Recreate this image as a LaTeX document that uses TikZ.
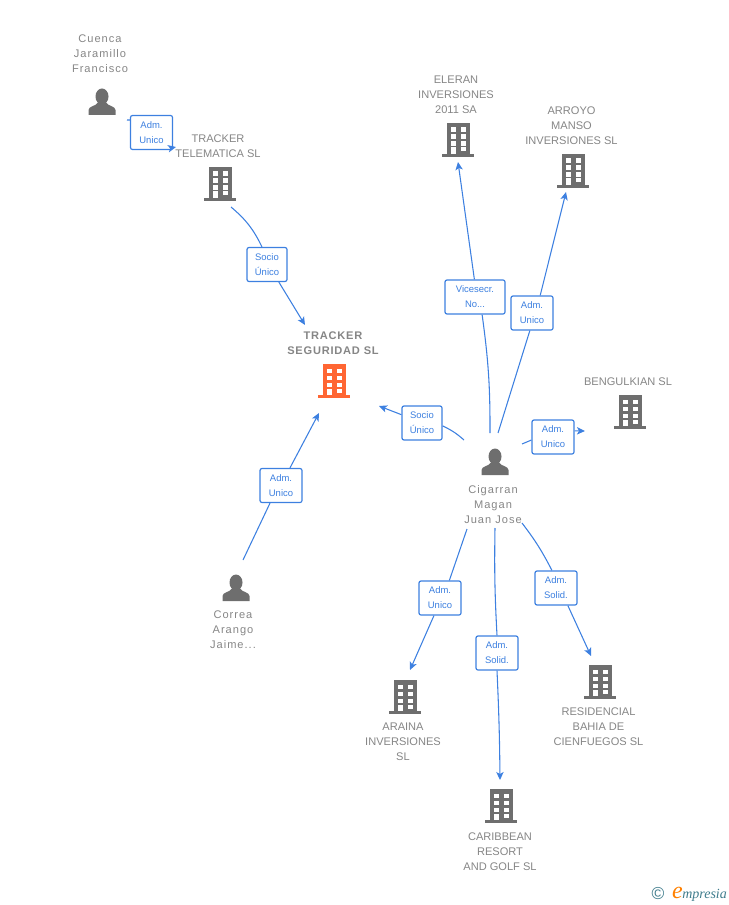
\documentclass[tikz,border=0pt]{standalone}
\usepackage{fontspec}
\setmainfont{Liberation Sans}
\newfontfamily\logofont{Liberation Serif}
\usepackage{xcolor}
\usetikzlibrary{calc,arrows.meta}
\definecolor{icongrey}{HTML}{6E6E6E}
\definecolor{textgrey}{HTML}{868686}
\definecolor{linkblue}{HTML}{3D80E0}
\definecolor{mainorange}{HTML}{FF6633}
\definecolor{logoteal}{HTML}{3F7C8C}
\tikzset{
	complabel/.style={align=center,text=textgrey,inner sep=0pt,font=\fontsize{8.3}{11.25}\selectfont},
	personlabel/.style={complabel,font=\fontsize{8.3}{11.25}\selectfont\addfontfeatures{LetterSpace=9}},
	mainlabel/.style={complabel,font=\fontsize{8.3}{11.25}\selectfont\bfseries\addfontfeatures{LetterSpace=7}},
	rolebox/.style={draw=linkblue,line width=0.9pt,fill=white,rounded corners=1.5pt,minimum height=25.5pt,minimum width=31.5pt,inner sep=0pt,align=center,text=linkblue,font=\fontsize{7.1}{11.25}\selectfont},
	linkline/.style={linkblue,line width=0.8pt},
	linkarrow/.style={linkblue,line width=0.8pt,-{Stealth[length=6pt,width=5.5pt,inset=1.5pt]}},
	building/.pic={
		\fill[pic actions] (-11.5,-17) rectangle (11.5,14);
		\fill[pic actions] (-16,14) rectangle (16,17);
		\foreach \yy in {-12.5,-5.5,1.5} {
			\fill[white] (-7.5,\yy) rectangle (-2.5,\yy+4.5);
			\fill[white] (2.5,\yy) rectangle (7.5,\yy+4.5);
		}
		\fill[white] (-7.5,7.5) rectangle (-2.5,14);
		\fill[white] (2.5,7.5) rectangle (7.5,11.5);
	},
	person/.pic={
		\fill[pic actions] (0,-5.5) ellipse (6.5 and 8);
		\fill[pic actions] (-13.5,13) -- (-13.5,8) .. controls (-13.5,4) and (-6,4.5) .. (-3.5,0) -- (3.5,0) .. controls (6,4.5) and (13.5,4) .. (13.5,8) -- (13.5,13) -- cycle;
	}
}
\begin{document}
\begin{tikzpicture}[x=0.75pt,y=-0.75pt]
	\useasboundingbox (0,0) rectangle (728,905);
	% icons
	\pic[fill=icongrey] (cuenca) at (102,102) {person};
	\pic[fill=icongrey] (cigarran) at (495,462) {person};
	\pic[fill=icongrey] (correa) at (236,588) {person};
	\pic[fill=icongrey] (telematica) at (220,184) {building};
	\pic[fill=mainorange] (seguridad) at (334,381) {building};
	\pic[fill=icongrey] (eleran) at (458,140) {building};
	\pic[fill=icongrey] (arroyo) at (573,171) {building};
	\pic[fill=icongrey] (bengulkian) at (630,412) {building};
	\pic[fill=icongrey] (araina) at (405,697) {building};
	\pic[fill=icongrey] (residencial) at (600,682) {building};
	\pic[fill=icongrey] (caribbean) at (501,806) {building};
	% labels
	\node[personlabel] (cuencatxt) at (100,53.5) {Cuenca\\Jaramillo\\Francisco};
	\node[complabel] (telematicatxt) at (218,146) {TRACKER\\TELEMATICA SL};
	\node[mainlabel] (seguridadtxt) at (333,343) {TRACKER\\SEGURIDAD SL};
	\node[complabel] (elerantxt) at (456,94.5) {ELERAN\\INVERSIONES\\2011 SA};
	\node[complabel] (arroyotxt) at (571.5,125.5) {ARROYO\\MANSO\\INVERSIONES SL};
	\node[complabel] (bengulkiantxt) at (628,381.5) {BENGULKIAN SL};
	\node[personlabel] (cigarrantxt) at (493,505) {Cigarran\\Magan\\Juan Jose};
	\node[personlabel] (correatxt) at (233,630) {Correa\\Arango\\Jaime...};
	\node[complabel] (arainatxt) at (403,741.5) {ARAINA\\INVERSIONES\\SL};
	\node[complabel] (residencialtxt) at (598.5,726.5) {RESIDENCIAL\\BAHIA DE\\CIENFUEGOS SL};
	\node[complabel] (caribbeantxt) at (500,851.5) {CARIBBEAN\\RESORT\\AND GOLF SL};
	% role boxes
	\node[rolebox] (admcuenca) at (151.5,132.5) {Adm.\\Unico};
	\node[rolebox,minimum width=30pt] (sociotel) at (267,264.5) {Socio\\Único};
	\node[rolebox] (admcorrea) at (281,485.5) {Adm.\\Unico};
	\node[rolebox,minimum width=30pt] (sociocig) at (422,423) {Socio\\Único};
	\node[rolebox,minimum width=45pt] (vicecig) at (475,297) {Vicesecr.\\No...};
	\node[rolebox] (admarroyo) at (532,313) {Adm.\\Unico};
	\node[rolebox] (admbeng) at (553,437) {Adm.\\Unico};
	\node[rolebox] (admaraina) at (440,598) {Adm.\\Unico};
	\node[rolebox] (solcarib) at (497,653) {Adm.\\Solid.};
	\node[rolebox] (solresid) at (556,588) {Adm.\\Solid.};
	% free ends of the links
	\coordinate (c1) at (127,120);
	\coordinate (c2) at (176,147);
	\coordinate (c3) at (231,207);
	\coordinate (c4) at (305,325);
	\coordinate (c5) at (243,560);
	\coordinate (c6) at (319,413);
	\coordinate (c7) at (464,440);
	\coordinate (c8) at (379,406);
	\coordinate (c9) at (490,433);
	\coordinate (c10) at (458,162);
	\coordinate (c11) at (498,433);
	\coordinate (c12) at (566,192);
	\coordinate (c13) at (522,444);
	\coordinate (c14) at (585,431);
	\coordinate (c15) at (467,529);
	\coordinate (c16) at (410,670);
	\coordinate (c17) at (495,528);
	\coordinate (c18) at (500,780);
	\coordinate (c19) at (522,523);
	\coordinate (c20) at (591,656);
	% links
	\draw[linkline] (c1) -- (admcuenca.150);
	\draw[linkarrow] (admcuenca.-35) -- (c2);
	\draw[linkline] (c3) to[bend left=12] (sociotel.106);
	\draw[linkarrow] (sociotel.-56) -- (c4);
	\draw[linkline] (c5) -- (admcorrea.-122);
	\draw[linkarrow] (admcorrea.63) -- (c6);
	\draw[linkline] (c7) to[bend right=8] (sociocig.-8);
	\draw[linkarrow] (sociocig.158) -- (c8);
	\draw[linkline] (c9) to[bend right=4] (vicecig.-68);
	\draw[linkarrow] (vicecig.92) -- (c10);
	\draw[linkline] (c11) -- (admarroyo.-97);
	\draw[linkarrow] (admarroyo.65) -- (c12);
	\draw[linkline] (c13) -- (admbeng.-172);
	\draw[linkarrow] (admbeng.16) -- (c14);
	\draw[linkline] (c15) -- (admaraina.62);
	\draw[linkarrow] (admaraina.-109) -- (c16);
	\draw[linkline] (c17) to[bend right=2] (solcarib.90);
	\draw[linkarrow] (solcarib.-90) to[bend left=1] (c18);
	\draw[linkline] (c19) to[bend left=5] (solresid.103);
	\draw[linkarrow] (solresid.-56) -- (c20);
	% logo
	\node[inner sep=0pt,text=logoteal,font=\fontsize{13}{13}\selectfont] (logocopy) at (658,894) {\textcopyright};
	\node[inner sep=0pt,anchor=base west,text=logoteal,font=\logofont\itshape\fontsize{10.5}{12}\selectfont] (logoname) at (682,898) {mpresia};
	\node[inner sep=0pt,anchor=base east,text=orange,font=\logofont\itshape\fontsize{18}{18}\selectfont] (logoe) at (683,898) {e};
\end{tikzpicture}
\end{document}
